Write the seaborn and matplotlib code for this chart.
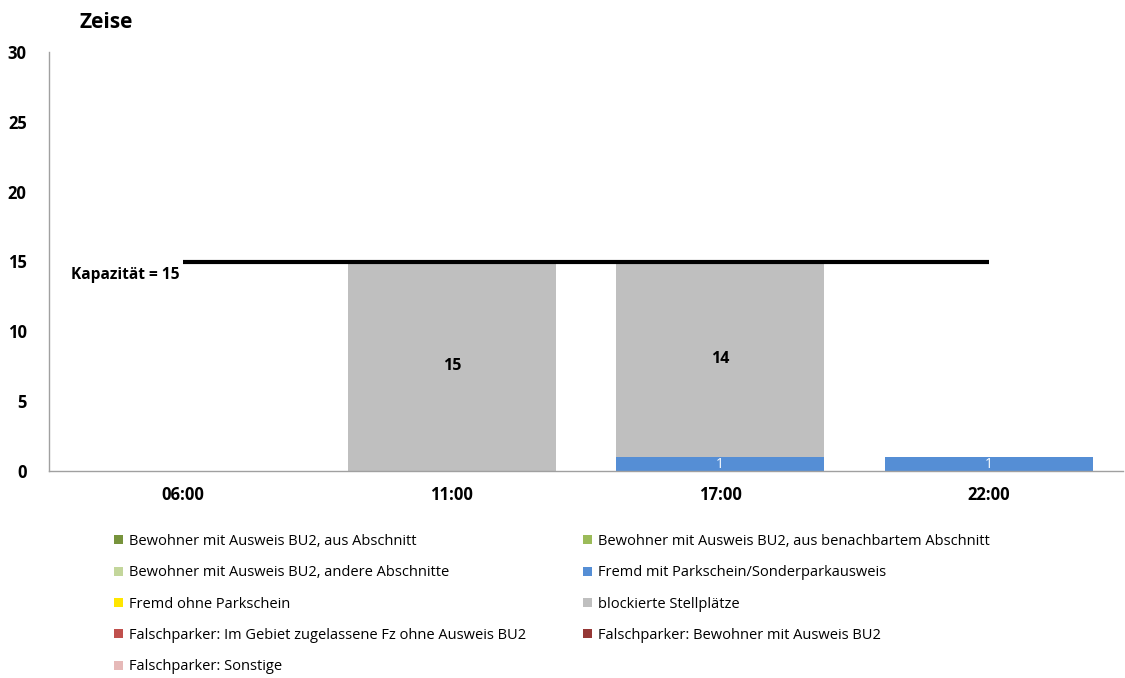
import matplotlib
matplotlib.use("Agg")
import matplotlib.pyplot as plt
import seaborn as sns
import pandas as pd
import numpy as np
from matplotlib.patches import Patch

times = ["06:00", "11:00", "17:00", "22:00"]
series = [
    "Bewohner mit Ausweis BU2, aus Abschnitt",
    "Bewohner mit Ausweis BU2, aus benachbartem Abschnitt",
    "Bewohner mit Ausweis BU2, andere Abschnitte",
    "Fremd mit Parkschein/Sonderparkausweis",
    "Fremd ohne Parkschein",
    "blockierte Stellplätze",
    "Falschparker: Im Gebiet zugelassene Fz ohne Ausweis BU2",
    "Falschparker: Bewohner mit Ausweis BU2",
    "Falschparker: Sonstige",
]
bew_abschnitt = [0, 0, 0, 0]
bew_benachbart = [0, 0, 0, 0]
bew_andere = [0, 0, 0, 0]
fremd_parkschein = [0, 0, 1, 1]
fremd_ohne = [0, 0, 0, 0]
blockiert = [0, 15, 14, 0]
falsch_gebiet = [0, 0, 0, 0]
falsch_bewohner = [0, 0, 0, 0]
falsch_sonstige = [0, 0, 0, 0]
values = [bew_abschnitt, bew_benachbart, bew_andere, fremd_parkschein, fremd_ohne,
          blockiert, falsch_gebiet, falsch_bewohner, falsch_sonstige]
colors = ["#77933C", "#9BBB59", "#C3D69B", "#558ED5", "#FFE600",
          "#BFBFBF", "#C0504D", "#953735", "#E6B9B8"]
label_colors = ["black", "black", "black", "white", "black",
                "black", "white", "white", "black"]
capacity = 15
title = "Zeise"

sns.set_theme(style="white")
plt.rcParams["font.family"] = ["Open Sans", "DejaVu Sans"]
plt.rcParams["text.color"] = "black"
plt.rcParams["xtick.color"] = "black"
plt.rcParams["ytick.color"] = "black"

fig = plt.figure(figsize=(11.25, 6.78), dpi=100)
ax = fig.add_axes([49 / 1125, 1 - 471 / 678, (1123 - 49) / 1125, (471 - 52) / 678])

arr = np.array(values, dtype=float)
cum = np.cumsum(arr, axis=0)
bottoms = cum - arr
# draw cumulative totals from the top series down so lower series overlay
for i in range(len(series) - 1, -1, -1):
    df = pd.DataFrame({"time": times, "val": cum[i]})
    sns.barplot(data=df, x="time", y="val", color=colors[i], width=0.775,
                saturation=1, ax=ax, linewidth=0, order=times)

for i in range(len(series)):
    for j, t in enumerate(times):
        v = arr[i, j]
        if v > 0:
            small = v < 2
            ax.text(j, bottoms[i, j] + v / 2, f"{int(v)}", ha="center", va="center",
                    fontsize=10 if small else 11.5,
                    fontweight="normal" if label_colors[i] == "white" else "bold",
                    color=label_colors[i])

ax.plot([0, len(times) - 1], [capacity, capacity], color="black", linewidth=3,
        solid_capstyle="butt", zorder=5)
ax.annotate(f"Kapazität = {capacity}", xy=(0, capacity), xytext=(-3, -4),
            textcoords="offset points", ha="right", va="top",
            fontsize=11.2, fontweight="bold")

ax.set_xlim(-0.5, len(times) - 0.5)
ax.set_ylim(0, 30)
ax.set_yticks(range(0, 31, 5))
ax.set_xlabel("")
ax.set_ylabel("")
ax.tick_params(axis="both", length=0, labelsize=12)
ax.tick_params(axis="x", pad=11)
ax.tick_params(axis="y", pad=16)
for lab in ax.get_xticklabels() + ax.get_yticklabels():
    lab.set_fontweight("bold")
for s in ["top", "right"]:
    ax.spines[s].set_visible(False)
for s in ["left", "bottom"]:
    ax.spines[s].set_color("#A0A0A0")
    ax.spines[s].set_linewidth(1)

fig.text(80 / 1125, 1 - 22 / 678, title, fontsize=15, fontweight="bold", va="center")

handles = [Patch(facecolor=c, edgecolor="none", label=s) for c, s in zip(colors, series)]
left_idx = [0, 2, 4, 6, 8]
right_idx = [1, 3, 5, 7]
leg_kw = dict(frameon=False, fontsize=10.5, handlelength=0.6, handleheight=0.6,
              handletextpad=0.4, labelspacing=1.12, borderaxespad=0, borderpad=0)
leg1 = fig.legend([handles[i] for i in left_idx], [series[i] for i in left_idx],
                  loc="upper left", bbox_to_anchor=(114 / 1125, 1 - 534 / 678), **leg_kw)
leg2 = fig.legend([handles[i] for i in right_idx], [series[i] for i in right_idx],
                  loc="upper left", bbox_to_anchor=(583 / 1125, 1 - 534 / 678), **leg_kw)

fig.savefig("out.png", dpi=100)
